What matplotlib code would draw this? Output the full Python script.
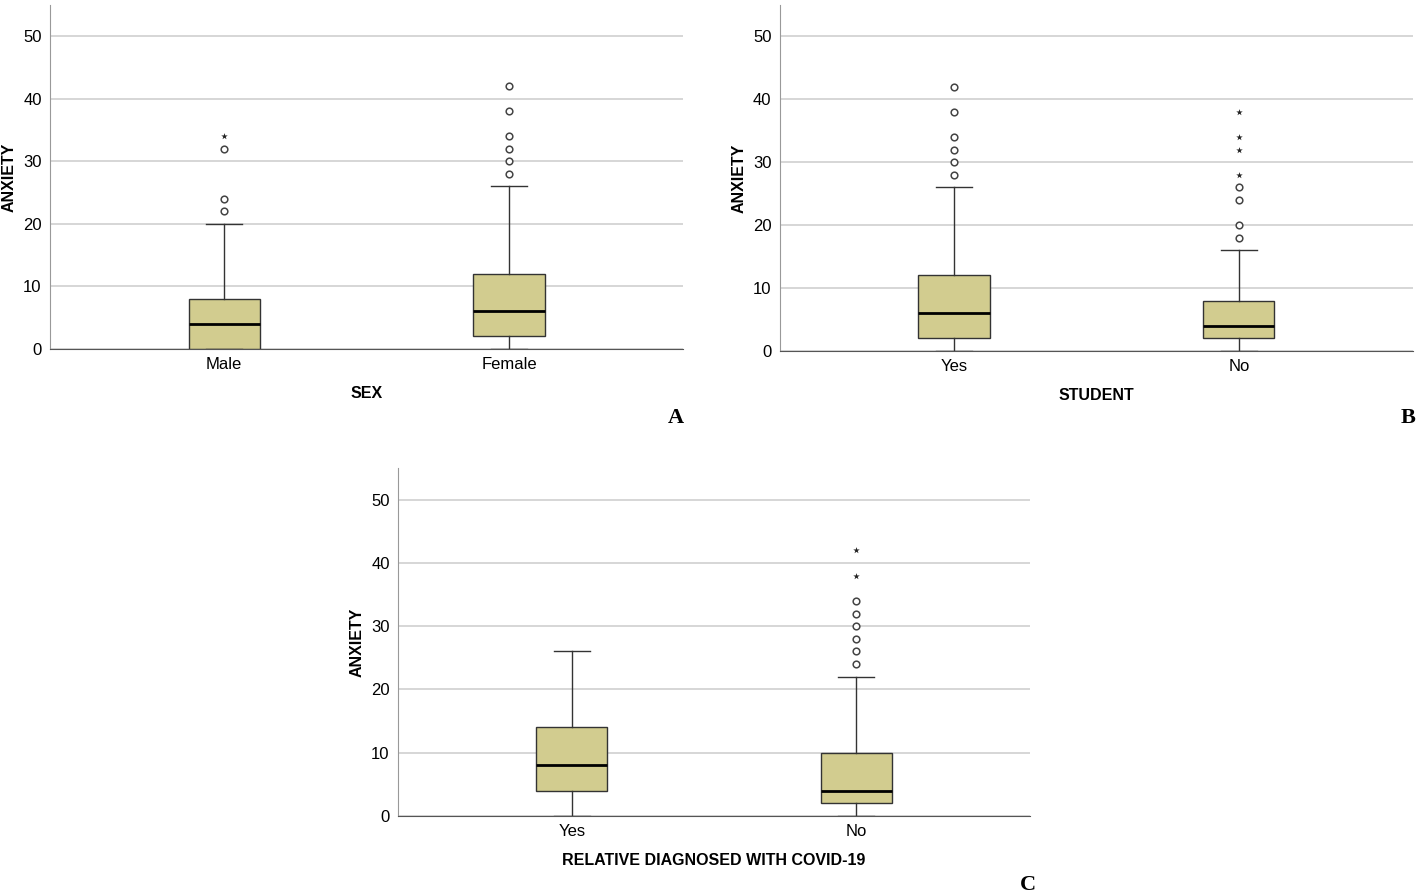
import matplotlib.pyplot as plt

plt.rcParams['font.family'] = ['Liberation Sans', 'DejaVu Sans']

# box statistics per panel: (whislo, q1, med, q3, whishi)
sex_groups = ["Male", "Female"]
sex_stats = [(0, 0, 4, 8, 20), (0, 2, 6, 12, 26)]
sex_circles = [[22, 24, 32], [28, 30, 32, 34, 38, 42]]
sex_stars = [[34], []]

student_groups = ["Yes", "No"]
student_stats = [(0, 2, 6, 12, 26), (0, 2, 4, 8, 16)]
student_circles = [[28, 30, 32, 34, 38, 42], [18, 20, 24, 26]]
student_stars = [[], [28, 32, 34, 38]]

rel_groups = ["Yes", "No"]
rel_stats = [(0, 4, 8, 14, 26), (0, 2, 4, 10, 22)]
rel_circles = [[], [24, 26, 28, 30, 32, 34]]
rel_stars = [[], [38, 42]]

box_color = "#d2cc8f"


def draw_panel(ax, groups, stats, circles, stars, xlabel):
    bstats = []
    for g, s, c in zip(groups, stats, circles):
        bstats.append(dict(label=g, whislo=s[0], q1=s[1], med=s[2], q3=s[3],
                           whishi=s[4], fliers=c))
    ax.bxp(bstats, positions=[1, 2], widths=0.25, patch_artist=True,
           boxprops=dict(facecolor=box_color, edgecolor="#333333", linewidth=1),
           medianprops=dict(color="black", linewidth=2),
           whiskerprops=dict(color="#333333", linewidth=1),
           capprops=dict(color="#333333", linewidth=1),
           capwidths=0.126,
           flierprops=dict(marker="o", markerfacecolor="white",
                           markeredgecolor="#444444", markersize=4.8,
                           markeredgewidth=1.1))
    for i, st in enumerate(stars):
        if st:
            ax.scatter([i + 1] * len(st), st, marker="*", s=24, color="#222222",
                       zorder=4, linewidths=0)
    ax.set_xlim(0.389, 2.611)
    ax.set_ylim(0, 55)
    ax.set_yticks([0, 10, 20, 30, 40, 50])
    ax.yaxis.grid(True, color="#cccccc", linewidth=1.1)
    ax.set_axisbelow(True)
    for sp in ["top", "right"]:
        ax.spines[sp].set_visible(False)
    ax.spines["left"].set_color("#999999")
    ax.spines["bottom"].set_color("#555555")
    ax.tick_params(length=0, labelsize=12, pad=6)
    ax.set_xlabel(xlabel, fontsize=11.5, fontweight="bold", labelpad=10)
    ax.set_ylabel("ANXIETY", fontsize=11.5, fontweight="bold")
    ax.yaxis.set_label_coords(-0.053, 0.5)


fig = plt.figure(figsize=(14.18, 8.96), dpi=100)
axA = fig.add_axes([0.0353, 0.6105, 0.4464, 0.3839])
axB = fig.add_axes([0.5500, 0.6083, 0.4464, 0.3861])
axC = fig.add_axes([0.2807, 0.0893, 0.4457, 0.3884])

draw_panel(axA, sex_groups, sex_stats, sex_circles, sex_stars, "SEX")
draw_panel(axB, student_groups, student_stats, student_circles, student_stars, "STUDENT")
draw_panel(axC, rel_groups, rel_stats, rel_circles, rel_stars,
           "RELATIVE DIAGNOSED WITH COVID-19")

serif = ['Liberation Serif', 'DejaVu Serif']
fig.text(676 / 1418, 1 - 418 / 896, "A", family=serif, fontsize=16,
         fontweight="bold", ha="center", va="center")
fig.text(1408 / 1418, 1 - 418 / 896, "B", family=serif, fontsize=16,
         fontweight="bold", ha="center", va="center")
fig.text(1028 / 1418, 1 - 885 / 896, "C", family=serif, fontsize=16,
         fontweight="bold", ha="center", va="center")

fig.savefig("out.png", dpi=100)
